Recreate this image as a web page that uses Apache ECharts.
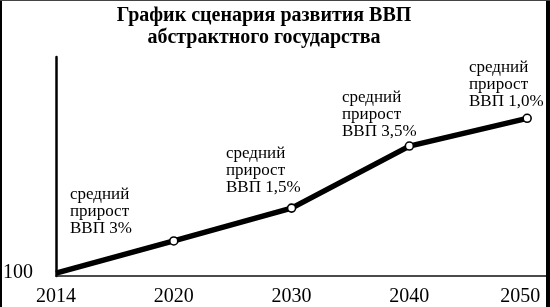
<!DOCTYPE html>
<html>
<head>
<meta charset="utf-8">
<script src="https://cdn.jsdelivr.net/npm/echarts@6/dist/echarts.min.js"></script>
<style>
html,body{margin:0;padding:0;background:#fff;}
#c{width:550px;height:307px;}
</style>
</head>
<body>
<div id="c"></div>
<script>
// ---- data ----
const titleLines = ['График сценария развития ВВП', 'абстрактного государства'];
const years = ['2014', '2020', '2030', '2040', '2050'];
const gdp = [100, 122, 144.5, 187, 206];
const yTickLabels = [100];
const notes = [
  ['средний', 'прирост', 'ВВП 3%'],
  ['средний', 'прирост', 'ВВП 1,5%'],
  ['средний', 'прирост', 'ВВП 3,5%'],
  ['средний', 'прирост', 'ВВП 1,0%']
];

// ---- layout / style ----
const serif = '"Liberation Serif", "Times New Roman", serif';
const notePos = [[70, 186], [226, 145], [342, 89], [469, 59]];

const chart = echarts.init(document.getElementById('c'), null, {renderer: 'canvas'});

const seriesData = years.map((y, i) => {
  const item = {value: [i, gdp[i]]};
  if (i === 0) item.symbol = 'none';
  return item;
});

const graphics = [
  {type: 'rect', shape: {x: 0, y: 0, width: 2, height: 307}, style: {fill: '#000'}, z: 100},
  {type: 'rect', shape: {x: 546, y: 0, width: 4, height: 307}, style: {fill: '#000'}, z: 100},
  {type: 'rect', shape: {x: 0, y: 0, width: 550, height: 1}, style: {fill: '#444'}, z: 100}
];
notes.forEach((lines, i) => {
  graphics.push({
    type: 'text',
    left: notePos[i][0],
    top: notePos[i][1],
    style: {
      text: lines.join('\n'),
      font: '17px ' + serif,
      lineHeight: 17,
      fill: '#000'
    }
  });
});

const option = {
  backgroundColor: '#fff',
  animation: false,
  title: {
    text: titleLines.join('\n'),
    left: 264,
    top: 5,
    textAlign: 'center',
    padding: 0,
    textStyle: {
      fontFamily: serif,
      fontWeight: 'bold',
      fontSize: 20,
      lineHeight: 22,
      color: '#000'
    }
  },
  grid: {left: 55, right: 4, top: 57, bottom: 31, containLabel: false},
  xAxis: {
    type: 'value',
    min: 0,
    max: 4.16,
    interval: 1,
    splitLine: {show: false},
    axisTick: {show: false},
    axisLine: {show: true, onZero: false, lineStyle: {color: '#111', width: 1.5}},
    axisLabel: {
      margin: 11,
      fontFamily: serif,
      fontSize: 20,
      color: '#000',
      showMaxLabel: false,
      formatter: v => {
        if (!Number.isInteger(v) || years[v] === undefined) return '';
        return v === years.length - 1 ? '{last|' + years[v] + '}' : years[v];
      },
      rich: {
        last: {fontFamily: serif, fontSize: 20, color: '#000', padding: [0, 14, 0, 0]}
      }
    }
  },
  yAxis: {
    type: 'value',
    min: 98,
    max: 248,
    splitLine: {show: false},
    axisTick: {show: false},
    axisLine: {show: true, lineStyle: {color: '#000', width: 2.5}},
    axisLabel: {
      customValues: yTickLabels,
      margin: 23,
      fontFamily: serif,
      fontSize: 20,
      color: '#000',
      padding: [0, 0, 7, 0]
    }
  },
  graphic: graphics,
  series: [{
    type: 'line',
    data: seriesData,
    symbol: 'circle',
    symbolSize: 8,
    showSymbol: true,
    lineStyle: {color: '#000', width: 5.5},
    itemStyle: {color: '#fff', borderColor: '#000', borderWidth: 1.6},
    z: 3
  }]
};
chart.setOption(option);
</script>
</body>
</html>
